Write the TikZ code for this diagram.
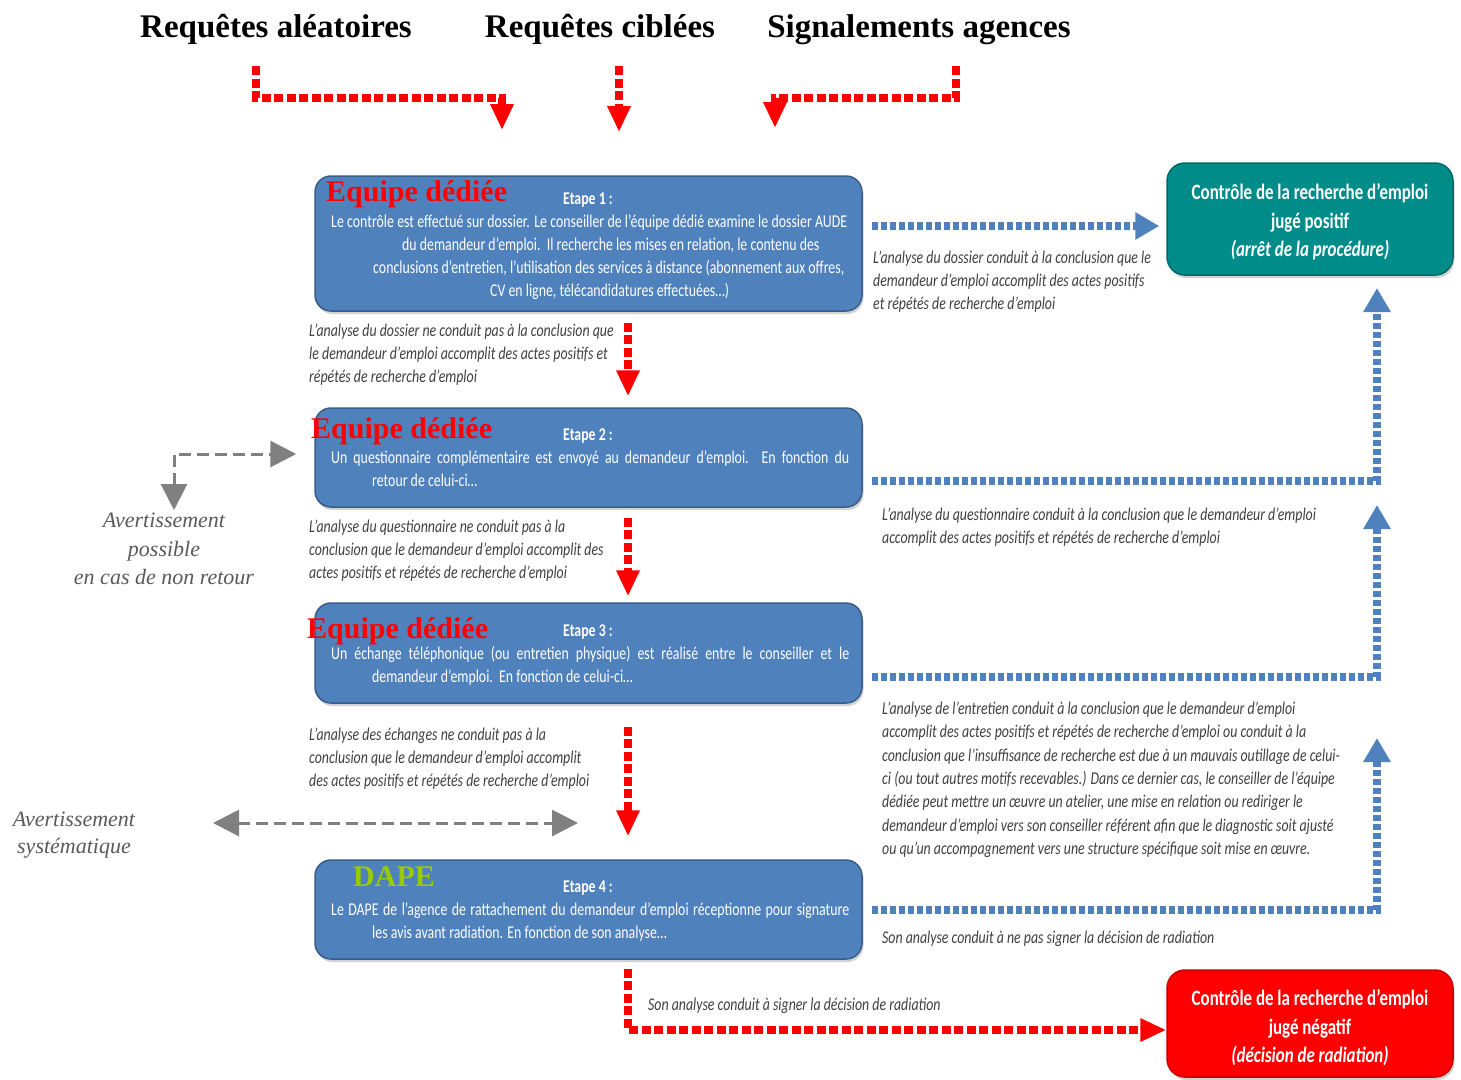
\documentclass[tikz,border=0pt]{standalone}
\usepackage{fontspec}
\setmainfont{Liberation Serif}
\newfontfamily\calf[FakeStretch=0.77]{Carlito}
\usetikzlibrary{arrows.meta,shadows,calc}
\definecolor{boxblue}{RGB}{79,129,189}
\definecolor{boxedge}{RGB}{56,93,138}
\definecolor{tealc}{RGB}{0,140,137}
\definecolor{tealedge}{RGB}{0,105,102}
\definecolor{notegray}{RGB}{64,64,64}
\definecolor{avgray}{RGB}{90,90,90}
\definecolor{arrgray}{RGB}{128,128,128}
\definecolor{dapegreen}{RGB}{153,204,0}
\definecolor{dashblue}{RGB}{79,129,189}
\begin{document}
\begin{tikzpicture}[x=1pt,y=-1pt,
 stepbox/.style={draw=boxedge, line width=1.5pt, fill=boxblue, rounded corners=16pt, minimum width=547pt, inner sep=0pt,
   drop shadow={shadow xshift=1.5pt,shadow yshift=-3pt,opacity=0.35}},
 resbox/.style={rounded corners=18pt, minimum width=286pt, inner sep=0pt,
   drop shadow={shadow xshift=1.5pt,shadow yshift=-3pt,opacity=0.35}},
 restext/.style={text=white, align=center, inner sep=0pt, font=\calf\bfseries\fontsize{22}{28.5}\selectfont},
 title/.style={font=\bfseries\fontsize{33}{36}\selectfont, anchor=base, inner sep=0pt},
 team/.style={text=red, font=\bfseries\fontsize{30}{34}\selectfont, anchor=base west, inner sep=0pt},
 etape/.style={text=white, font=\calf\bfseries\fontsize{18}{22}\selectfont, anchor=base, inner sep=0pt},
 bt/.style={text=white, font=\calf\fontsize{18}{23}\selectfont, anchor=base west, inner sep=0pt},
 note/.style={text=notegray, font=\calf\itshape\fontsize{18}{23}\selectfont, anchor=base west, inner sep=0pt},
 avert/.style={text=avgray, font=\itshape\fontsize{22}{28}\selectfont, inner sep=0pt, anchor=base},
 reddash/.style={draw=red, line width=8pt, dash pattern=on 9pt off 3.5pt, -{Triangle[length=26pt,width=22pt]}},
 bluedash/.style={draw=dashblue, line width=8pt, dash pattern=on 6pt off 3pt, -{Triangle[length=24pt,width=26pt]}},
 graydash/.style={draw=arrgray, line width=3pt, dash pattern=on 12pt off 6pt,
   {Triangle[length=26pt,width=26pt]}-{Triangle[length=26pt,width=26pt]}},
]
\useasboundingbox (0,0) rectangle (1461,1079);
\fill[white] (0,0) rectangle (1461,1079);

% titles
\node[title] (t1) at (276,37) {Requêtes aléatoires};
\node[title] (t2) at (600,37) {Requêtes ciblées};
\node[title] (t3) at (919,37) {Signalements agences};

% top red arrows
\coordinate (r1a) at (256,66);
\coordinate (r1b) at (502,130);
\coordinate (r2a) at (619,66);
\coordinate (r2b) at (619,132);
\coordinate (r3a) at (956,66);
\coordinate (r3b) at (775,128);
\draw[reddash] (r1a) -- (256,98) -| (r1b);
\draw[reddash] (r2a) -- (r2b);
\draw[reddash] (r3a) -- (956,98) -| (r3b);

% step boxes
\node[stepbox, minimum height=135pt] (b1) at (588.5,243.5) {};
\node[stepbox, minimum height=99pt] (b2) at (588.5,457.5) {};
\node[stepbox, minimum height=100pt] (b3) at (588.5,653) {};
\node[stepbox, minimum height=99pt] (b4) at (588.5,909.5) {};

% result boxes
\node[resbox, fill=tealc, draw=tealedge, line width=1.5pt, minimum height=112pt] (tl) at (1310,219) {};
\node[restext] (tlt) at (1310,222)
  {Contrôle de la recherche d’emploi\\jugé positif\\\textit{(arrêt de la procédure)}};
\node[resbox, fill=red, draw=red!80!black, line width=1.5pt, minimum height=107pt] (rb) at (1310,1023.5) {};
\node[restext] (rbt) at (1310,1028)
  {Contrôle de la recherche d’emploi\\jugé négatif\\\textit{(décision de radiation)}};

% labels in boxes
\node[team] (e1) at (326,201) {Equipe dédiée};
\node[team] (e2) at (311,438) {Equipe dédiée};
\node[team] (e3) at (307,638) {Equipe dédiée};
\node[team, text=dapegreen] (e4) at (353,886) {DAPE};

\node[etape] (s1) at (588,204) {Etape 1 :};
\node[etape] (s2) at (588,440) {Etape 2 :};
\node[etape] (s3) at (588,636) {Etape 3 :};
\node[etape] (s4) at (588,892) {Etape 4 :};

\node[bt] (b1l1) at (331,227) {\makebox[516pt][s]{Le contrôle est effectué sur dossier. Le conseiller de l’équipe dédié examine le dossier AUDE}};
\node[bt] (b1l2) at (402,250) {du demandeur d’emploi.\ \ Il recherche les mises en relation, le contenu des};
\node[bt] (b1l3) at (373,273) {conclusions d’entretien, l’utilisation des services à distance (abonnement aux offres,};
\node[bt] (b1l4) at (490,296) {CV en ligne, télécandidatures effectuées…)};

\node[bt] (b2l1) at (331,463) {\makebox[518pt][s]{Un questionnaire complémentaire est envoyé au demandeur d’emploi. En fonction du}};
\node[bt] (b2l2) at (372,486) {retour de celui-ci…};

\node[bt] (b3l1) at (331,659) {\makebox[518pt][s]{Un échange téléphonique (ou entretien physique) est réalisé entre le conseiller et le}};
\node[bt] (b3l2) at (372,682) {demandeur d’emploi.\ \ En fonction de celui-ci…};

\node[bt] (b4l1) at (331,915) {\makebox[518pt][s]{Le DAPE de l’agence de rattachement du demandeur d’emploi réceptionne pour signature}};
\node[bt] (b4l2) at (372,938) {les avis avant radiation. En fonction de son analyse…};

% notes left
\node[note] (n1a) at (309,336) {L’analyse du dossier ne conduit pas à la conclusion que};
\node[note] (n1b) at (309,359) {le demandeur d’emploi accomplit des actes positifs et};
\node[note] (n1c) at (309,382) {répétés de recherche d’emploi};

\node[note] (n2a) at (309,532) {L’analyse du questionnaire ne conduit pas à la};
\node[note] (n2b) at (309,555) {conclusion que le demandeur d’emploi accomplit des};
\node[note] (n2c) at (309,578) {actes positifs et répétés de recherche d’emploi};

\node[note] (n3a) at (309,740) {L’analyse des échanges ne conduit pas à la};
\node[note] (n3b) at (309,763) {conclusion que le demandeur d’emploi accomplit};
\node[note] (n3c) at (309,786) {des actes positifs et répétés de recherche d’emploi};

% notes right
\node[note] (m1a) at (873,263) {L’analyse du dossier conduit à la conclusion que le};
\node[note] (m1b) at (873,286) {demandeur d’emploi accomplit des actes positifs};
\node[note] (m1c) at (873,309) {et répétés de recherche d’emploi};

\node[note] (m2a) at (882,520) {L’analyse du questionnaire conduit à la conclusion que le demandeur d’emploi};
\node[note] (m2b) at (882,543) {accomplit des actes positifs et répétés de recherche d’emploi};

\node[note] (m3a) at (882,714) {L’analyse de l’entretien conduit à la conclusion que le demandeur d’emploi};
\node[note] (m3b) at (882,737) {accomplit des actes positifs et répétés de recherche d’emploi ou conduit à la};
\node[note] (m3c) at (882,761) {conclusion que l’insuffisance de recherche est due à un mauvais outillage de celui-};
\node[note] (m3d) at (882,784) {ci (ou tout autres motifs recevables.) Dans ce dernier cas, le conseiller de l’équipe};
\node[note] (m3e) at (882,807) {dédiée peut mettre un œuvre un atelier, une mise en relation ou rediriger le};
\node[note] (m3f) at (882,831) {demandeur d’emploi vers son conseiller référent afin que le diagnostic soit ajusté};
\node[note] (m3g) at (882,854) {ou qu’un accompagnement vers une structure spécifique soit mise en œuvre.};

\node[note] (m4) at (882,943) {Son analyse conduit à ne pas signer la décision de radiation};
\node[note] (m5) at (648,1010) {Son analyse conduit à signer la décision de radiation};

% avertissements
\node[avert] (av1a) at (164,527) {Avertissement};
\node[avert] (av1b) at (164,556) {possible};
\node[avert] (av1c) at (164,584) {en cas de non retour};
\node[avert] (av2a) at (74,826) {Avertissement};
\node[avert] (av2b) at (74,853) {systématique};

% red vertical arrows between steps
\coordinate (cx) at (628,0);
\draw[reddash] ([yshift=-11pt]b1.south -| cx) -- ([yshift=11pt]b2.north -| cx);
\draw[reddash] ([yshift=-10pt]b2.south -| cx) -- ([yshift=6pt]b3.north -| cx);
\draw[reddash] ([yshift=-23pt]b3.south -| cx) -- ([yshift=23pt]b4.north -| cx);
\draw[reddash] ([yshift=-9pt]b4.south -| cx) |- ([yshift=-6.5pt]rb.west);

% blue arrows
\draw[bluedash] ([shift={(9,-17.5)}]b1.east) -- ([shift={(-7,-17.5)}]b1.east -| tl.west);
\coordinate (u2) at (1377,288);
\coordinate (u3) at (1377,505);
\coordinate (u4) at (1377,738);
\draw[bluedash] ([shift={(9,23.5)}]b2.east) -| (u2);
\draw[bluedash] ([shift={(9,24)}]b3.east) -| (u3);
\draw[bluedash] ([shift={(9,0)}]b4.east) -| (u4);

% gray arrows
\coordinate (g1) at (174,510);
\draw[graydash] (g1) |- ([shift={(-18,-3.5)}]b2.west);
\coordinate (g2) at (213,823);
\coordinate (g3) at (578,823);
\draw[graydash] (g2) -- (g3);
\end{tikzpicture}
\end{document}
